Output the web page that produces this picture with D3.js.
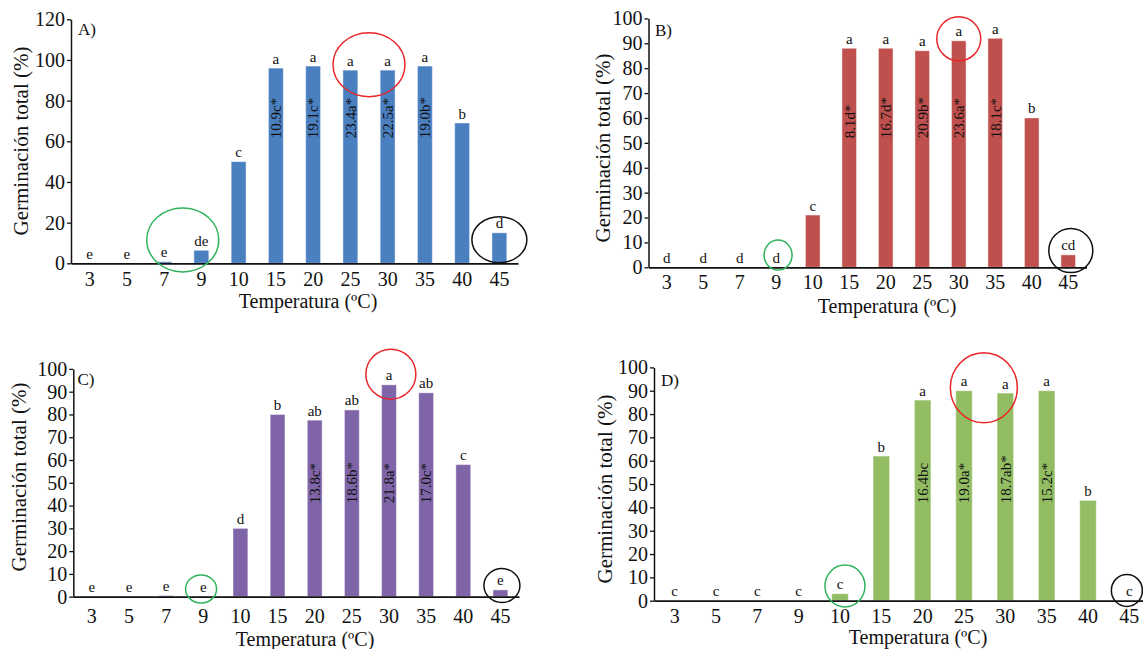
<!DOCTYPE html>
<html>
<head>
<meta charset="utf-8">
<script src="https://cdn.jsdelivr.net/npm/d3@7"></script>
<style>
  html, body { margin: 0; padding: 0; background: #fff; }
  svg { display: block; }
  text { font-family: "Liberation Serif", "Times New Roman", serif; fill: #111; }
</style>
</head>
<body>
<svg id="chart" width="1143" height="649"></svg>
<script>
// ---------- DATA ----------
const temps = ["3","5","7","9","10","15","20","25","30","35","40","45"];

const valuesA  = [0, 0, 0.8, 6.4, 50, 96, 97, 95, 95, 97, 69, 15];
const lettersA = ["e","e","e","de","c","a","a","a","a","a","b","d"];
const innerA   = ["","","","","","10.9c*","19.1c*","23.4a*","22.5a*","19.0b*","",""];

const valuesB  = [0, 0, 0, 0, 21, 88, 88, 87, 91, 92, 60, 5];
const lettersB = ["d","d","d","d","c","a","a","a","a","a","b","cd"];
const innerB   = ["","","","","","8.1d*","16.7d*","20.9b*","23.6a*","18.1c*","",""];

const valuesC  = [0, 0, 0.5, 0, 30, 80, 77.5, 82, 93, 89.5, 58, 3];
const lettersC = ["e","e","e","e","d","b","ab","ab","a","ab","c","e"];
const innerC   = ["","","","","","","13.8c*","18.6b*","21.8a*","17.0c*","",""];

const valuesD  = [0, 0, 0, 0, 3, 62, 86, 90, 89, 90, 43, 0];
const lettersD = ["c","c","c","c","c","b","a","a","a","a","b","c"];
const innerD   = ["","","","","","","16.4bc","19.0a*","18.7ab*","15.2c*","",""];

const yTicksA = [0, 20, 40, 60, 80, 100, 120];
const yTicksBCD = [0, 10, 20, 30, 40, 50, 60, 70, 80, 90, 100];

const yTitle = "Germinación total (%)";
const xTitle = "Temperatura (ºC)";

// annotations: [category index, value, rx, ry, colour]
const ringsA = [[2.5, 11.5, 36, 32, "#2fb35a"], [7.5, 97.7, 36, 32, "#e8262a"], [11.0, 11.6, 27.5, 23, "#111"]];
const ringsB = [[3.05, 4.9, 14, 15, "#2fb35a"], [8.0, 91.8, 22, 22, "#e8262a"], [11.07, 6.7, 22, 22, "#111"]];
const ringsC = [[2.94, 3.4, 15.5, 14, "#2fb35a"], [8.05, 97.7, 25, 25, "#e8262a"], [11.04, 4.9, 18, 17, "#111"]];
const ringsD = [[4.12, 6.3, 20, 21, "#2fb35a"], [7.48, 91.3, 33.5, 35, "#e8262a"], [10.94, 4.4, 15.5, 16, "#111"]];

// ---------- LAYOUT ----------
const panels = [
  { tag: "A)", values: valuesA, letters: lettersA, inner: innerA, rings: ringsA, color: "#4a7fc0",
    yMax: 120, ticks: yTicksA, x0: 71, x1: 518, y0: 263.3, yTop: 19.3, innerAt: 61.5,
    xPad: 8.5, tagPos: [78, 35], yTitlePos: [20.5, 141], xTitlePos: [308, 308] },
  { tag: "B)", values: valuesB, letters: lettersB, inner: innerB, rings: ringsB, color: "#c0504d",
    yMax: 100, ticks: yTicksBCD, x0: 648.5, x1: 1086.5, y0: 267.3, yTop: 18.4, innerAt: 51.8,
    xPad: 8, tagPos: [655, 36], yTitlePos: [603, 148], xTitlePos: [887, 313] },
  { tag: "C)", values: valuesC, letters: lettersC, inner: innerC, rings: ringsC, color: "#7f65a7",
    yMax: 100, ticks: yTicksBCD, x0: 73.3, x1: 519, y0: 596.7, yTop: 368.9, innerAt: 41,
    xPad: 12.5, tagPos: [77.5, 385], yTitlePos: [19, 477], xTitlePos: [305, 646] },
  { tag: "D)", values: valuesD, letters: lettersD, inner: innerD, rings: ringsD, color: "#93bd63",
    yMax: 100, ticks: yTicksBCD, x0: 654, x1: 1150, y0: 600.7, yTop: 367.4, innerAt: 41.8,
    xPad: 8, tagPos: [661, 386], yTitlePos: [605, 489], xTitlePos: [918, 644] }
];

const svg = d3.select("#chart");

panels.forEach(p => {
  const g = svg.append("g");
  const x = d3.scaleBand().domain(temps).range([p.x0, p.x1]).paddingInner(0.6).paddingOuter(0.3);
  const y = d3.scaleLinear().domain([0, p.yMax]).range([p.y0, p.yTop]);
  const cx = i => p.x0 + (i + 0.5) * x.step();

  // bars
  g.selectAll("rect.bar").data(p.values).join("rect")
    .attr("class", "bar")
    .attr("x", (d, i) => x(temps[i]))
    .attr("width", x.bandwidth())
    .attr("y", d => y(d))
    .attr("height", d => p.y0 - y(d))
    .attr("fill", p.color)
    .attr("stroke", d => d > 0 ? "rgba(255,255,255,0.45)" : "none")
    .attr("stroke-width", 1);

  // y axis
  const ya = g.append("g").attr("transform", `translate(${p.x0},0)`)
    .call(d3.axisLeft(y).tickValues(p.ticks).tickSize(4).tickSizeOuter(0).tickPadding(2));
  ya.attr("font-family", null);
  ya.selectAll("text").style("font-size", "20px").style("font-family", '"Liberation Serif", serif').attr("fill", "#111");
  ya.selectAll("line").attr("stroke", "#111").attr("stroke-width", 1.3);
  ya.select(".domain").attr("stroke", "#111").attr("stroke-width", 1.5);

  // x axis
  const xa = g.append("g").attr("transform", `translate(0,${p.y0})`)
    .call(d3.axisBottom(x).tickSize(0).tickSizeOuter(0).tickPadding(p.xPad));
  xa.attr("font-family", null);
  xa.selectAll("text").style("font-size", "20px").style("font-family", '"Liberation Serif", serif').attr("fill", "#111");
  xa.select(".domain").attr("stroke", "#111").attr("stroke-width", 1.8);

  // significance letters above bars
  g.selectAll("text.lt").data(p.letters).join("text")
    .attr("class", "lt")
    .attr("x", (d, i) => x(temps[i]) + x.bandwidth() / 2)
    .attr("y", (d, i) => y(p.values[i]) - 4.5)
    .attr("text-anchor", "middle")
    .style("font-size", "15px")
    .text(d => d);

  // rotated inside labels
  g.selectAll("text.in").data(p.inner).join("text")
    .attr("class", "in")
    .filter(d => d !== "")
    .attr("transform", function(d) {
      const i = p.inner.indexOf(d);
      const xx = x(temps[i]) + x.bandwidth() / 2;
      return `translate(${xx},${y(p.innerAt)}) rotate(-90)`;
    })
    .attr("dy", "0.35em")
    .attr("text-anchor", "start")
    .style("font-size", "15px")
    .text(d => d);

  // panel tag
  g.append("text").attr("x", p.tagPos[0]).attr("y", p.tagPos[1])
    .style("font-size", "17px").text(p.tag);

  // axis titles
  g.append("text")
    .attr("transform", `translate(${p.yTitlePos[0]},${p.yTitlePos[1]}) rotate(-90)`)
    .attr("text-anchor", "middle").attr("dy", "0.35em")
    .style("font-size", "21px").text(yTitle);
  g.append("text").attr("x", p.xTitlePos[0]).attr("y", p.xTitlePos[1])
    .attr("text-anchor", "middle").style("font-size", "20px").text(xTitle);

  // annotation ellipses
  g.selectAll("ellipse").data(p.rings).join("ellipse")
    .attr("cx", d => cx(d[0]))
    .attr("cy", d => y(d[1]))
    .attr("rx", d => d[2])
    .attr("ry", d => d[3])
    .attr("fill", "none")
    .attr("stroke", d => d[4])
    .attr("stroke-width", 1.5);
});
</script>
</body>
</html>
